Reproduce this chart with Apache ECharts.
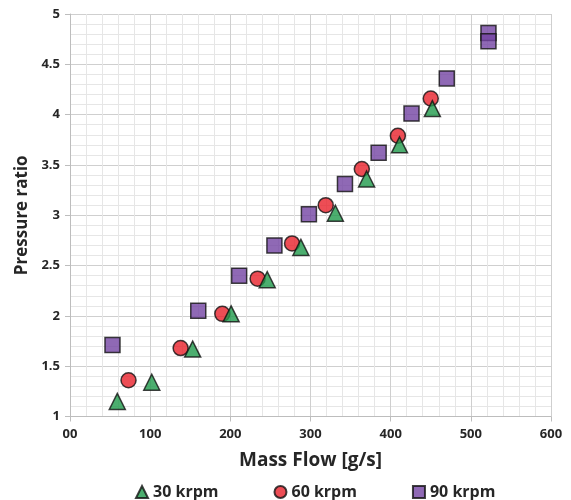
<!DOCTYPE html>
<html>
<head>
<meta charset="utf-8">
<script src="https://cdn.jsdelivr.net/npm/echarts@6/dist/echarts.min.js"></script>
<style>
html,body{margin:0;padding:0;background:#fff;}
#chart{width:571px;height:500px;}
</style>
</head>
<body>
<div id="chart"></div>
<script>
var seriesNames = ['30 krpm', '60 krpm', '90 krpm'];
var flow30 = [59, 102, 153, 201, 246, 288, 331, 370, 411, 452];
var pr30 = [1.15, 1.34, 1.67, 2.02, 2.36, 2.68, 3.02, 3.36, 3.70, 4.06];
var flow60 = [73, 138, 190, 234, 277, 319, 364, 409, 450];
var pr60 = [1.36, 1.68, 2.02, 2.37, 2.72, 3.10, 3.46, 3.79, 4.16];
var flow90 = [53, 160, 211, 255, 298, 343, 385, 426, 470, 522, 522];
var pr90 = [1.71, 2.05, 2.40, 2.70, 3.01, 3.31, 3.62, 4.01, 4.36, 4.81, 4.73];
var xTickLabels = {0: '00', 100: '100', 200: '200', 300: '300', 400: '400', 500: '500', 600: '600'};

function pairs(xs, ys) { return xs.map(function (x, i) { return [x, ys[i]]; }); }

var chart = echarts.init(document.getElementById('chart'), null, {renderer: 'canvas'});
var font = '"Open Sans", "Noto Sans", sans-serif';
var textColor = '#262626';
var markerBorder = {borderColor: '#111', borderWidth: 1.5};

chart.setOption({
  animation: false,
  backgroundColor: '#fff',
  grid: {left: 70, right: 20, top: 14, bottom: 83.5, containLabel: false},
  legend: {
    top: 479,
    left: 130,
    itemWidth: 12,
    itemHeight: 12,
    itemGap: 55,
    textStyle: {fontFamily: font, fontWeight: 'bold', fontSize: 16, color: textColor},
    data: [
      {name: seriesNames[0], icon: 'triangle'},
      {name: seriesNames[1], icon: 'circle'},
      {name: seriesNames[2], icon: 'rect'}
    ]
  },
  xAxis: {
    type: 'value', min: 0, max: 600, interval: 100,
    name: 'Mass Flow [g/s]', nameLocation: 'middle', nameGap: 35,
    nameTextStyle: {fontFamily: font, fontWeight: 'bold', fontSize: 19, color: textColor},
    axisLine: {show: true, lineStyle: {color: '#bdbdbd'}},
    axisTick: {show: true, length: 5, lineStyle: {color: '#bdbdbd'}},
    axisLabel: {fontFamily: font, fontWeight: 'bold', fontSize: 13, color: textColor, margin: 11,
      formatter: function (v) { return xTickLabels[v] !== undefined ? xTickLabels[v] : String(v); }},
    splitLine: {show: true, lineStyle: {color: '#cfcfcf', width: 1}},
    minorTick: {show: false, splitNumber: 5},
    minorSplitLine: {show: true, lineStyle: {color: '#e6e6e6', width: 1}}
  },
  yAxis: {
    type: 'value', min: 1, max: 5, interval: 0.5,
    name: 'Pressure ratio', nameLocation: 'middle', nameGap: 38,
    nameTextStyle: {fontFamily: font, fontWeight: 'bold', fontSize: 17, color: textColor},
    axisLine: {show: true, lineStyle: {color: '#bdbdbd'}},
    axisTick: {show: true, length: 5, lineStyle: {color: '#bdbdbd'}},
    axisLabel: {fontFamily: font, fontWeight: 'bold', fontSize: 13, color: textColor, margin: 10},
    splitLine: {show: true, lineStyle: {color: '#cfcfcf', width: 1}},
    minorTick: {show: false, splitNumber: 5},
    minorSplitLine: {show: true, lineStyle: {color: '#e6e6e6', width: 1}}
  },
  series: [
    {name: seriesNames[0], type: 'scatter', symbol: 'triangle', symbolSize: 16, z: 4,
      itemStyle: Object.assign({color: '#1f9a4b'}, markerBorder), data: pairs(flow30, pr30)},
    {name: seriesNames[1], type: 'scatter', symbol: 'circle', symbolSize: 15, z: 3,
      itemStyle: Object.assign({color: '#e8212b'}, markerBorder), data: pairs(flow60, pr60)},
    {name: seriesNames[2], type: 'scatter', symbol: 'rect', symbolSize: 15, z: 2,
      itemStyle: Object.assign({color: '#7343a3'}, markerBorder), data: pairs(flow90, pr90)}
  ]
});
</script>
</body>
</html>
